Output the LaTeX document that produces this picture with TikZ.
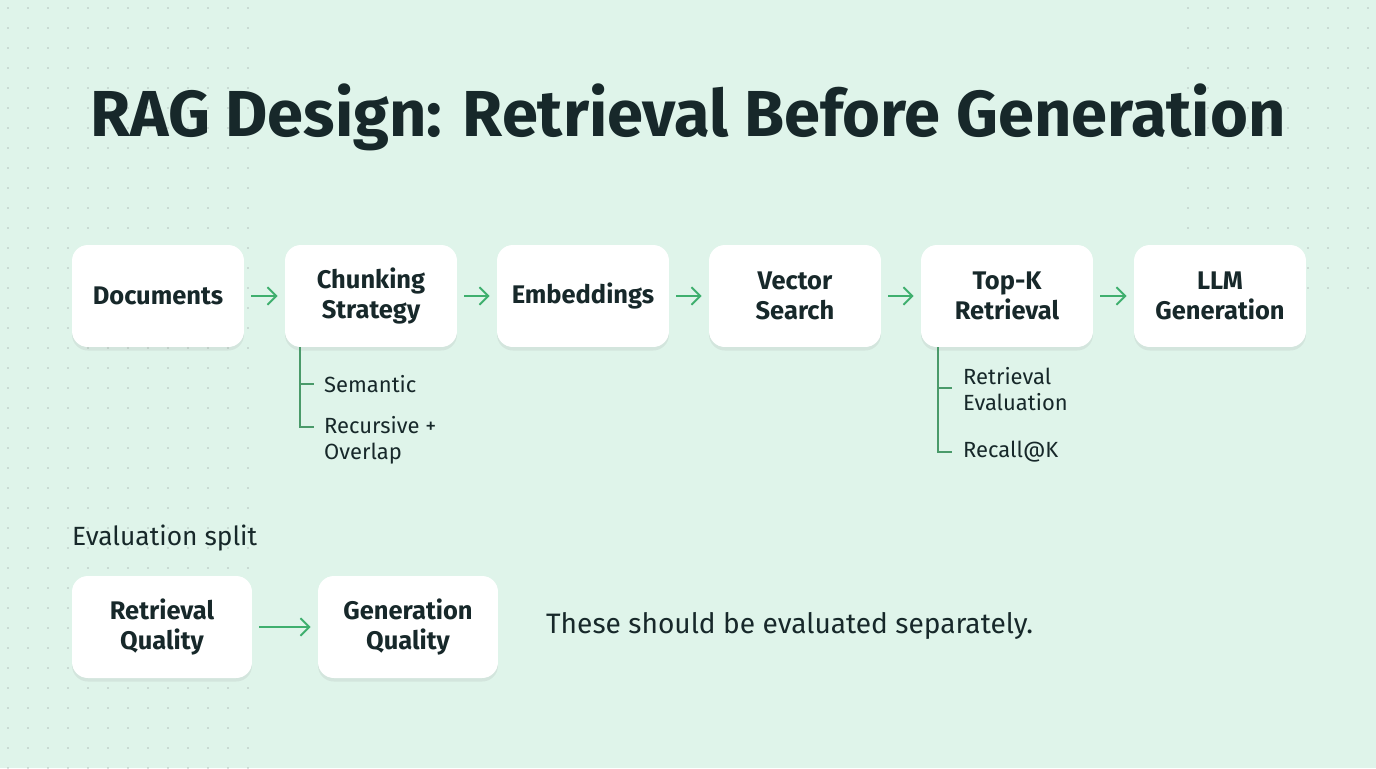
\documentclass[tikz,border=0pt]{standalone}
\usepackage{fontspec}
\setmainfont{Fira Sans}
\usetikzlibrary{arrows.meta,shadows}
\definecolor{bg}{HTML}{DFF4EA}
\definecolor{ink}{HTML}{17282A}
\definecolor{grn}{HTML}{3FAF6E}
\definecolor{tree}{HTML}{4A9A6A}
\begin{document}
\begin{tikzpicture}[x=0.02cm,y=-0.02cm,
  box/.style={draw=none,fill=white,rounded corners=9pt,minimum width=3.44cm,minimum height=2.04cm,align=center,font=\fontsize{14.5}{17.5}\selectfont\bfseries,text=ink,drop shadow={shadow xshift=0pt,shadow yshift=-2pt,opacity=0.12}},
  wbox/.style={box,minimum width=3.6cm},
  arr/.style={-{Straight Barb[length=5pt]},grn,line width=1.1pt},
  tl/.style={tree,line width=0.9pt},
  lab/.style={anchor=west,font=\fontsize{12.5}{15}\selectfont,text=ink,align=left}]
\fill[bg] (0,0) rectangle (1376,768);
\useasboundingbox (0,0) rectangle (1376,768);
\foreach \x in {8,28,...,1376}{\foreach \y in {8,28,...,768}{
  \ifdim \x pt<260pt \fill[ink!45,opacity=0.6] (\x,\y) circle (0.55pt);\fi
  \ifdim \x pt>1180pt \ifdim \y pt<300pt \fill[ink!45,opacity=0.6] (\x,\y) circle (0.55pt);\fi\fi
}}
\node[text=ink,font=\fontsize{37}{42}\selectfont\bfseries] (title) at (688,117) {RAG Design: Retrieval Before Generation};
\node[box] (doc) at (158,296) {Documents};
\node[box] (chunk) at (371,296) {Chunking\\Strategy};
\node[box] (emb) at (583,296) {Embeddings};
\node[box] (vec) at (795,296) {Vector\\Search};
\node[box] (topk) at (1007,296) {Top-K\\Retrieval};
\node[box] (llm) at (1220,296) {LLM\\Generation};
\foreach \a/\b in {doc/chunk,chunk/emb,emb/vec,vec/topk,topk/llm}
  \draw[arr] ([xshift=4pt]\a.east) -- ([xshift=-4pt]\b.west);
\coordinate (c0) at (300,347);
\draw[tl] (c0) -- (300,427) -- (314,427);
\draw[tl] (300,384) -- (314,384);
\node[lab] (s1) at (318,384) {Semantic};
\node[lab] (s2) at (318,440) {Recursive +\\Overlap};
\coordinate (t0) at (938,347);
\draw[tl] (t0) -- (938,452) -- (952,452);
\draw[tl] (938,388) -- (952,388);
\node[lab] (r1) at (957,389) {Retrieval\\Evaluation};
\node[lab] (r2) at (957,452) {Recall@K};
\node[anchor=west,font=\fontsize{15}{18}\selectfont,text=ink] (es) at (66,538) {Evaluation split};
\node[wbox] (rq) at (162,627) {Retrieval\\Quality};
\node[wbox] (gq) at (408,627) {Generation\\Quality};
\draw[arr] ([xshift=4pt]rq.east) -- ([xshift=-4pt]gq.west);
\node[anchor=west,font=\fontsize{16}{19}\selectfont,text=ink] (note) at (540,626) {These should be evaluated separately.};
\end{tikzpicture}
\end{document}
